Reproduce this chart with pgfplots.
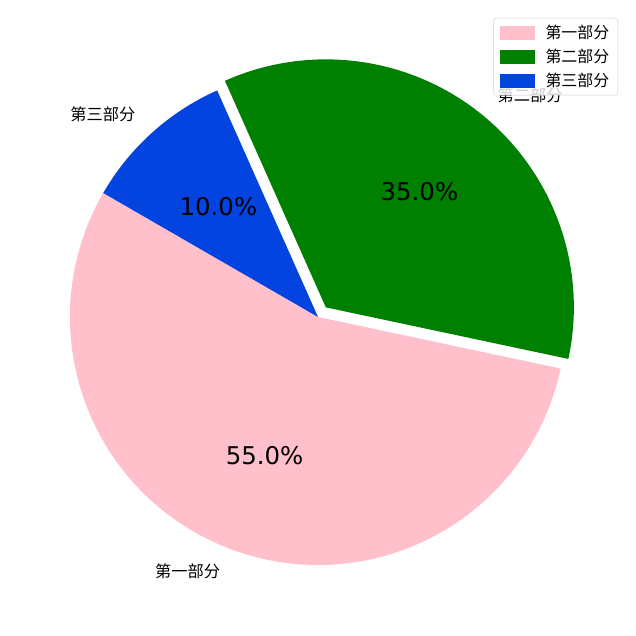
\documentclass[border=0pt]{standalone}
\usepackage{fontspec}
\setmainfont{DejaVu Sans}
\newfontfamily\cjk{Noto Sans CJK SC}
\usepackage{pgfplots}
\pgfplotsset{compat=1.18}
\usetikzlibrary{calc}
\definecolor{piepink}{HTML}{FFC0CB}
\definecolor{piegreen}{HTML}{008000}
\definecolor{pieblue}{HTML}{0343DF}
\pgfplotsset{
  patch legend/.style={legend image code/.code={
      \fill[##1, fill opacity=1, sharp corners] (0bp,-6.5bp) rectangle (33.4bp,6.5bp);
      \path (43bp,0bp);}},
}

% values (percent) of the three slices
\def\va{55}
\def\vb{35}
\def\vc{10}

\begin{document}
\begin{tikzpicture}
\begin{axis}[
    width=636bp, height=636bp, scale only axis,
    xmin=0, xmax=636, ymin=0, ymax=636,
    hide axis, clip=false,
    legend cell align=left,
    legend style={at={(axis cs:618,618)}, anchor=north east,
        draw=black!20, rounded corners=2.5bp, fill=white, fill opacity=0.8, text opacity=1,
        font=\cjk\fontsize{16}{17}\selectfont,
        nodes={inner ysep=2bp},
        row sep=5bp, inner xsep=6.5bp, inner ysep=5bp},
]
% white page
\fill[white] (axis cs:0,0) rectangle (axis cs:636,636);

\pgfmathsetmacro{\sa}{150}
\pgfmathsetmacro{\ea}{\sa+\va*3.6}
\pgfmathsetmacro{\eb}{\ea+\vb*3.6}
\pgfmathsetmacro{\ec}{\eb+\vc*3.6}
\pgfmathsetmacro{\ma}{(\sa+\ea)/2}
\pgfmathsetmacro{\mb}{(\ea+\eb)/2}
\pgfmathsetmacro{\mc}{(\eb+\ec)/2}

% slices
\fill[piepink] (axis cs:318,319) -- ++(\sa:248bp) arc[start angle=\sa, end angle=\ea, radius=248bp] -- cycle;
\fill[piegreen] ([shift={(\mb:12.4bp)}]axis cs:318,319) -- ++(\ea:248bp) arc[start angle=\ea, end angle=\eb, radius=248bp] -- cycle;
\fill[pieblue] (axis cs:318,319) -- ++(\eb:248bp) arc[start angle=\eb, end angle=\ec, radius=248bp] -- cycle;

% outer labels
\node[anchor=east, inner sep=0pt, font=\cjk\fontsize{16.3}{18}\selectfont] at ([shift={(\ma:272.8bp)}]axis cs:318,319) {第一部分};
\node[anchor=west, inner sep=0pt, font=\cjk\fontsize{16.3}{18}\selectfont] at ($(axis cs:318,319)+(\mb:12.4bp)+(\mb:272.8bp)$) {第二部分};
\node[anchor=east, inner sep=0pt, font=\cjk\fontsize{16.3}{18}\selectfont] at ([shift={(\mc:272.8bp)}]axis cs:318,319) {第三部分};

% percentages
\node[inner sep=0pt, font=\fontsize{24.5}{28}\selectfont] at ([shift={(\ma:148.8bp)}]axis cs:318,319) {55.0\%};
\node[inner sep=0pt, font=\fontsize{24.5}{28}\selectfont] at ($(axis cs:318,319)+(\mb:12.4bp)+(\mb:148.8bp)$) {35.0\%};
\node[inner sep=0pt, font=\fontsize{24.5}{28}\selectfont] at ([shift={(\mc:148.8bp)}]axis cs:318,319) {10.0\%};

\addlegendimage{patch legend, piepink}
\addlegendentry{第一部分}
\addlegendimage{patch legend, piegreen}
\addlegendentry{第二部分}
\addlegendimage{patch legend, pieblue}
\addlegendentry{第三部分}
\end{axis}
\end{tikzpicture}
\end{document}
